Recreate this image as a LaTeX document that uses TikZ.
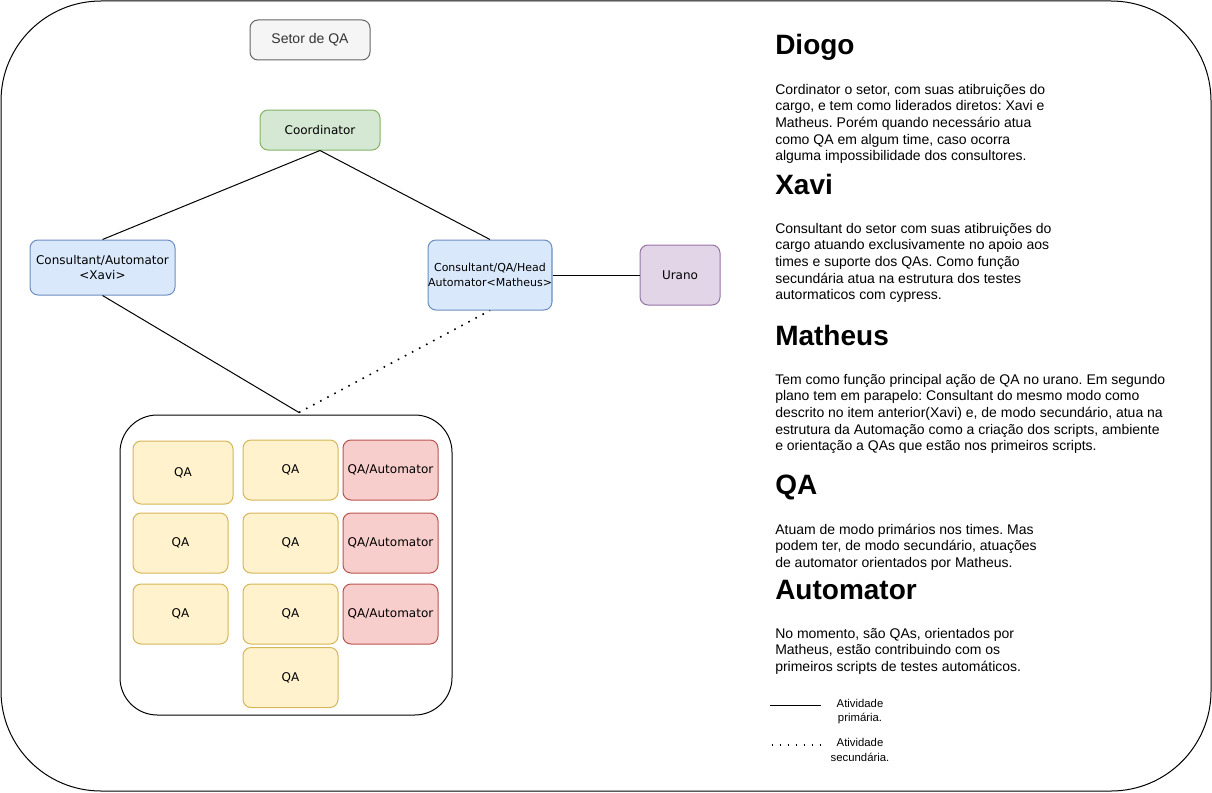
\documentclass[tikz,border=0pt]{standalone}
\usepackage{fontspec}
\setmainfont{Liberation Sans}
\newfontfamily\dejavu{DejaVu Sans}
\frenchspacing
\definecolor{grayfill}{HTML}{F5F5F5}
\definecolor{graydraw}{HTML}{666666}
\definecolor{graytext}{HTML}{333333}
\definecolor{greenfill}{HTML}{D5E8D4}
\definecolor{greendraw}{HTML}{82B366}
\definecolor{bluefill}{HTML}{DAE8FC}
\definecolor{bluedraw}{HTML}{6C8EBF}
\definecolor{purplefill}{HTML}{E1D5E7}
\definecolor{purpledraw}{HTML}{9673A6}
\definecolor{yellowfill}{HTML}{FFF2CC}
\definecolor{yellowdraw}{HTML}{D6B656}
\definecolor{redfill}{HTML}{F8CECC}
\definecolor{reddraw}{HTML}{B85450}
\begin{document}
\frenchspacing
\begin{tikzpicture}[x=0.75pt,y=-0.75pt,
  box/.style={draw, rounded corners=6pt, line width=0.75pt, align=center, inner sep=0pt,
    font=\dejavu\fontsize{9}{11.5}\selectfont},
  qabox/.style={box, fill=yellowfill, draw=yellowdraw, minimum width=71.25pt, minimum height=45pt},
  qaabox/.style={box, fill=redfill, draw=reddraw, minimum width=71.25pt, minimum height=45pt},
  conn/.style={line width=0.75pt, black},
  dotconn/.style={line width=1.2pt, black, dash pattern=on 1.2pt off 4.8pt},
  head/.style={anchor=base west, inner sep=0pt, font=\bfseries\fontsize{21}{25}\selectfont},
  body/.style={anchor=base west, inner sep=0pt, font=\fontsize{10.5}{12.5}\selectfont},
  legend/.style={anchor=base, inner sep=0pt, font=\fontsize{8.5}{10}\selectfont}]
\useasboundingbox (0,0) rectangle (1212,792);
\draw[line width=0.75pt, rounded corners=75pt] (1,1) rectangle (1211,791);

% chart nodes
\node[box, fill=grayfill, draw=graydraw, text=graytext, minimum width=90pt, minimum height=30pt,
  font=\fontsize{10.5}{12}\selectfont] (setor) at (310,40) {Setor de QA};
\node[box, fill=greenfill, draw=greendraw, minimum width=90pt, minimum height=30pt] (coord) at (320,130) {Coordinator};
\node[box, fill=bluefill, draw=bluedraw, minimum width=108.75pt, minimum height=41.25pt] (xavi) at (102.5,267.5) {Consultant/Automator\\{<}Xavi{>}};
\node[box, fill=bluefill, draw=bluedraw, minimum width=90pt, minimum height=52.5pt,
  font=\dejavu\fontsize{8.25}{11}\selectfont] (matheus) at (490,275) {Consultant/QA/Head\\Automator{<}Matheus{>}};
\node[box, fill=purplefill, draw=purpledraw, minimum width=60pt, minimum height=45pt] (urano) at (680,275) {Urano};

% team container
\node[draw, line width=0.75pt, rounded corners=28pt, minimum width=249pt, minimum height=225pt, inner sep=0pt] (team) at (286,565) {};
\node[qabox, minimum width=75pt, minimum height=47.25pt] (qa11) at (183,472.5) {QA};
\node[qabox] (qa12) at (290.5,470) {QA};
\node[qaabox] (qa13) at (390.5,470) {QA/Automator};
\node[qabox] (qa21) at (180.5,543) {QA};
\node[qabox] (qa22) at (290.5,543) {QA};
\node[qaabox] (qa23) at (390.5,543) {QA/Automator};
\node[qabox] (qa31) at (180.5,614) {QA};
\node[qabox] (qa32) at (290.5,614) {QA};
\node[qaabox] (qa33) at (390.5,614) {QA/Automator};
\node[qabox] (qa42) at (290.5,677.5) {QA};

% connectors
\coordinate (j) at (299,412.5);
\draw[conn] (coord.south) -- (xavi.north);
\draw[conn] (coord.south) -- (matheus.north);
\draw[conn] (matheus.east) -- (urano.west);
\draw[conn] (xavi.south) -- (j);
\draw[dotconn] (j) -- (matheus.south);

% right text
\node[head] (hdiogo) at (775,55) {Diogo};
\foreach \t [count=\i from 0] in {{Cordinator o setor, com suas atibruições do},{cargo, e tem como liderados diretos: Xavi e},{Matheus. Porém quando necessário atua},{como QA em algum time, caso ocorra},{alguma impossibilidade dos consultores.}}
  \node[body] (tdiogo\i) at (775,{94+16.67*\i}) {\t};

\node[head] (hxavi) at (775,194.3) {Xavi};
\foreach \t [count=\i from 0] in {{Consultant do setor com suas atibruições do},{cargo atuando exclusivamente no apoio aos},{times e suporte dos QAs. Como função},{secundária atua na estrutura dos testes},{autormaticos com cypress.}}
  \node[body] (txavi\i) at (775,{233.3+16.67*\i}) {\t};

\node[head] (hmatheus) at (775,345) {Matheus};
\foreach \t [count=\i from 0] in {{Tem como função principal ação de QA no urano. Em segundo},{plano tem em parapelo: Consultant do mesmo modo como},{descrito no item anterior(Xavi) e, de modo secundário, atua na},{estrutura da Automação como a criação dos scripts, ambiente},{e orientação a QAs que estão nos primeiros scripts.}}
  \node[body] (tmatheus\i) at (775,{384+16.67*\i}) {\t};

\node[head] (hqa) at (775,494.3) {QA};
\foreach \t [count=\i from 0] in {{Atuam de modo primários nos times. Mas},{podem ter, de modo secundário, atuações},{de automator orientados por Matheus.}}
  \node[body] (tqa\i) at (775,{534+16.67*\i}) {\t};

\node[head] (hauto) at (775,599.3) {Automator};
\foreach \t [count=\i from 0] in {{No momento, são QAs, orientados por},{Matheus, estão contribuindo com os},{primeiros scripts de testes automáticos.}}
  \node[body] (tauto\i) at (775,{638.3+16.67*\i}) {\t};

% legend
\coordinate (l1a) at (770,705.7);
\coordinate (l1b) at (820.5,705.7);
\draw[conn] (l1a) -- (l1b);
\node[legend] (lp1) at (860,707.3) {Atividade};
\node[legend] (lp2) at (860,721.7) {primária.};
\coordinate (l2a) at (771.5,745);
\coordinate (l2b) at (822,745);
\draw[dotconn] (l2a) -- (l2b);
\node[legend] (ls1) at (860,746.7) {Atividade};
\node[legend] (ls2) at (860,761.7) {secundária.};
\end{tikzpicture}
\end{document}
